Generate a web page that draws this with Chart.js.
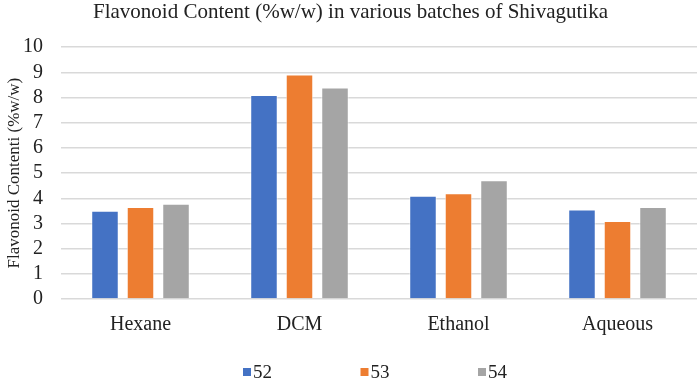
<!DOCTYPE html>
<html>
<head>
<meta charset="utf-8">
<script src="https://cdn.jsdelivr.net/npm/chart.js@4.4.0/dist/chart.umd.min.js"></script>
<style>
  html, body { margin: 0; padding: 0; background: #fff; }
  #wrap { width: 699px; height: 379px; }
</style>
</head>
<body>
<div id="wrap"><canvas id="chart"></canvas></div>
<script>
const categories = ['Hexane', 'DCM', 'Ethanol', 'Aqueous'];
const batch52 = [3.5, 8.1, 4.1, 3.55];
const batch53 = [3.65, 8.92, 4.2, 3.1];
const batch54 = [3.78, 8.4, 4.72, 3.65];
const seriesNames = ['52', '53', '54'];
const colors = ['#4472C4', '#ED7D31', '#A5A5A5'];

const serif = "'Liberation Serif', 'Times New Roman', serif";

// Excel-style legend at the bottom: small squares, wide gaps
const bottomLegend = {
  id: 'bottomLegend',
  afterDraw(chart) {
    const c = chart.ctx;
    c.save();
    c.font = Chart.helpers.toFont({ family: serif, size: 19 }).string;
    c.textBaseline = 'middle';
    c.textAlign = 'left';
    chart.data.datasets.forEach((ds, i) => {
      const x = 243 + i * 117.5;
      const y = 372;
      c.fillStyle = ds.backgroundColor;
      c.fillRect(x, y - 4, 8, 8);
      c.fillStyle = '#222';
      c.fillText(ds.label, x + 10, y + 1);
    });
    c.restore();
  }
};

const ctx = document.getElementById('chart').getContext('2d');
new Chart(ctx, {
  type: 'bar',
  data: {
    labels: categories,
    datasets: [batch52, batch53, batch54].map((d, i) => ({
      label: seriesNames[i],
      data: d,
      backgroundColor: colors[i],
      borderColor: 'rgba(255,255,255,0.6)',
      borderWidth: 1
    }))
  },
  plugins: [bottomLegend],
  options: {
    responsive: true,
    maintainAspectRatio: false,
    animation: false,
    categoryPercentage: 0.67,
    barPercentage: 0.775,
    layout: { padding: { left: 4, right: 2, top: 0, bottom: 42 } },
    plugins: {
      title: {
        display: true,
        text: 'Flavonoid Content (%w/w) in various batches of Shivagutika',
        color: '#222',
        font: { family: serif, size: 21, weight: 'normal' },
        padding: { top: 0, bottom: 22 }
      },
      legend: { display: false },
      tooltip: { enabled: false }
    },
    scales: {
      x: {
        clip: false,
        grid: { display: false },
        border: { display: false },
        ticks: { color: '#222', font: { family: serif, size: 20 }, padding: 6, maxRotation: 0 },
        afterFit(scale) { scale.height = 38; }
      },
      y: {
        min: 0,
        max: 10,
        ticks: { stepSize: 1, autoSkip: false, color: '#222', font: { family: serif, size: 20 }, padding: 18 },
        grid: { color: '#d9d9d9', lineWidth: 1.5, drawTicks: false },
        border: { display: false },
        title: {
          display: true,
          text: 'Flavonoid Contenti (%w/w)',
          color: '#222',
          font: { family: serif, size: 17 },
          padding: { top: 0, bottom: 0 }
        },
        afterFit(scale) { scale.width = 57; }
      }
    }
  }
});
</script>
</body>
</html>
